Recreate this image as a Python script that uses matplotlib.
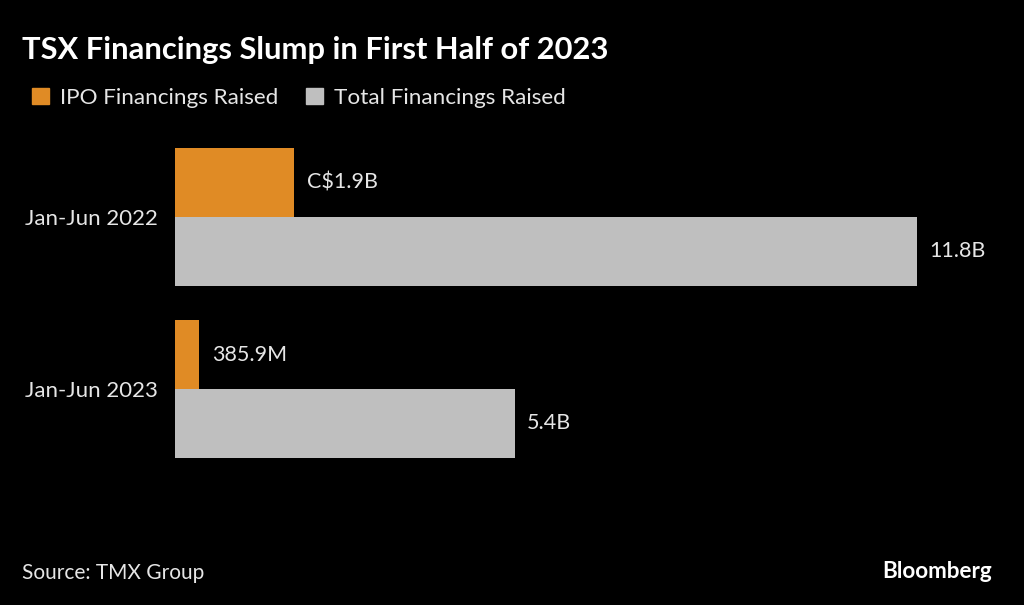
import matplotlib.pyplot as plt
from matplotlib.patches import Patch

periods = ['Jan-Jun 2022', 'Jan-Jun 2023']
ipo = [1.9, 0.3859]
total = [11.8, 5.4]
ipo_labels = ['C$1.9B', '385.9M']
total_labels = ['11.8B', '5.4B']

orange = '#E08B25'
grey = '#BFBFBF'
txt = '#E6E6E6'

plt.rcParams['font.family'] = ['Lato', 'DejaVu Sans']

fig = plt.figure(figsize=(10.24, 6.05), dpi=100, facecolor='black')
ax = fig.add_axes([175 / 1024, 1 - 470 / 605, 825 / 1024, 340 / 605])
ax.set_facecolor('black')

y = [0, 1]
h = 0.4
b1 = ax.barh([v - h / 2 for v in y], ipo, height=h, color=orange)
b2 = ax.barh([v + h / 2 for v in y], total, height=h, color=grey)

# value labels just past the end of each bar
for bars, labels in [(b1, ipo_labels), (b2, total_labels)]:
    for bar, lab in zip(bars, labels):
        ax.annotate(lab, (bar.get_width(), bar.get_y() + bar.get_height() / 2),
                    xytext=(9, 0), textcoords='offset points', va='center',
                    color=txt, fontsize=15.5)

ax.set_xlim(0, 825 / 62.88)
ax.set_ylim(1.471, -0.506)
ax.set_yticks(y)
ax.set_yticklabels(periods, color=txt, fontsize=16)
ax.tick_params(axis='y', length=0, pad=12)
ax.set_xticks([])
for s in ax.spines.values():
    s.set_visible(False)

fig.text(22 / 1024, 1 - 50 / 605, 'TSX Financings Slump in First Half of 2023',
         color='white', fontsize=22.2, fontweight='bold', va='center')

handles = [Patch(color=orange, label='IPO Financings Raised'),
           Patch(color=grey, label='Total Financings Raised')]
leg = fig.legend(handles=handles, loc='center left', ncol=2,
                 bbox_to_anchor=(12 / 1024, 1 - 98 / 605), frameon=False,
                 fontsize=16.2, handlelength=0.75, handleheight=0.75,
                 handletextpad=0.5, columnspacing=1.2)
for t in leg.get_texts():
    t.set_color(txt)

fig.text(22 / 1024, 1 - 573 / 605, 'Source: TMX Group', color=txt,
         fontsize=15, va='center')
fig.text(992 / 1024, 1 - 571 / 605, 'Bloomberg', color='white',
         fontsize=16.2, fontweight='bold', va='center', ha='right')

fig.savefig('out.png', dpi=100, facecolor='black')
